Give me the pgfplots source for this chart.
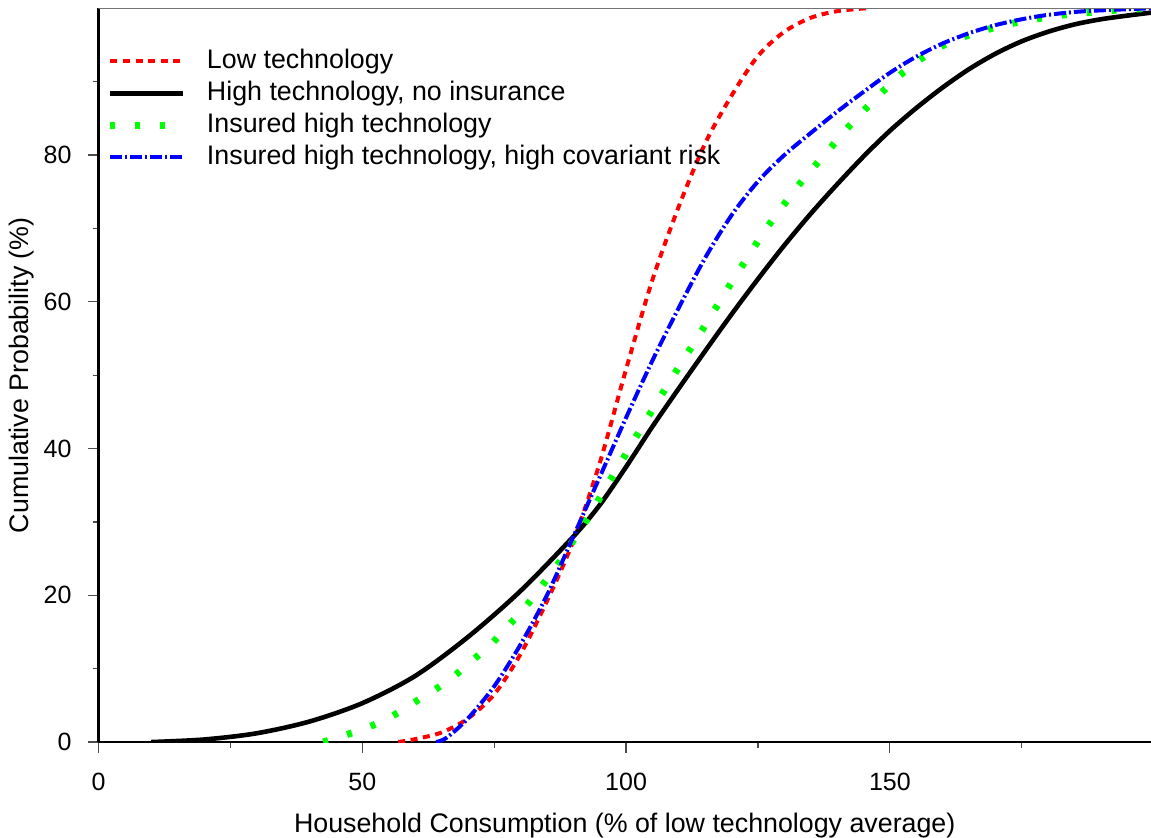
\documentclass[border=0pt]{standalone}
\usepackage{fontspec}
\setmainfont{Liberation Sans}
\usepackage{pgfplots}
\pgfplotsset{compat=1.18}
\begin{document}
\begin{tikzpicture}
\begin{axis}[
  scale only axis,
  width=526.25pt, height=366.9pt,
  xmin=0, xmax=199.5, ymin=0, ymax=100,
  axis x line*=bottom, axis y line*=left,
  axis line style={line width=1pt, black, -},
  xtick={0,50,100,150}, ytick={0,20,40,60,80},
  minor xtick={25,75,125,175}, minor ytick={10,30,50,70,90},
  tick align=outside,
  major tick length=5.5pt, minor tick length=3pt,
  tick style={line width=0.6pt, black!70},
  /pgf/number format/assume math mode=true,
  ticklabel style={font=\fontsize{12.5}{14}\selectfont},
  xticklabel style={anchor=base, yshift=-18.5pt},
  yticklabel style={anchor=east, xshift=-4.5pt},
  label style={font=\fontsize{13.4}{16}\selectfont},
  xlabel={Household Consumption (\% of low technology average)},
  ylabel={Cumulative Probability (\%)},
  x label style={at={(axis description cs:0.5,0)}, anchor=base, yshift=-45pt},
  y label style={at={(axis description cs:0,0.5)}, anchor=center, yshift=38.25pt},
  legend style={draw=none, fill=none, inner sep=0pt, outer sep=0pt,
    at={(axis description cs:0,1)}, anchor=north west, xshift=4.25pt, yshift=-20pt,
    font=\fontsize{13.4}{16}\selectfont,
    nodes={inner sep=0pt, text height=10pt, text depth=3pt},
    row sep=3pt,
    /tikz/every odd column/.append style={column sep=10pt}},
  legend cell align=left,
  legend image code/.code={\draw[#1] (0pt,0pt) -- (36.5pt,0pt);},
  clip=true,
]
% Low technology
\addplot[red, line width=2pt, dash pattern=on 3.5pt off 2.8pt, smooth] coordinates {
(56.8,0) (60,0.4) (65,1.3) (70,3.2) (75,6.5) (80,12.0) (85,19.2) (90,27.4)
(95,38.0) (100,50.8) (105,63.0) (110,73.0) (115,81.6) (120,88.1) (125,93.5)
(130,96.8) (135,98.7) (140,99.6) (145.5,100)
};
\addlegendentry{Low technology}
% High technology, no insurance
\addplot[black, line width=2.3pt, smooth] coordinates {
(10,0) (20,0.35) (30,1.2) (40,2.8) (50,5.3) (60,9.0) (70,14.3) (80,20.6)
(90,28.0) (95,32.3) (100,37.5) (105,43.0) (110,48.2) (115,53.3) (120,58.3)
(125,63.1) (130,67.7) (135,72.0) (140,76.0) (145,79.8) (150,83.3) (155,86.4)
(160,89.2) (165,91.7) (170,93.8) (175,95.5) (180,96.8) (185,97.8) (190,98.5)
(195,99.0) (199.5,99.4)
};
\addlegendentry{High technology, no insurance}
% Insured high technology
\addplot[green, line width=3.5pt, dash pattern=on 2.5pt off 10pt, smooth] coordinates {
(42.6,0) (47,1) (51.4,2.1) (55.8,3.6) (59.6,5.3) (63.7,7.1) (67.4,9) (71,11.2)
(74.5,13.4) (77.6,15.8) (80.7,18.2) (83.6,20.9) (86.5,23.6) (89,26.4) (91.5,29.1)
(93.9,31.9) (96.25,34.8) (98.6,37.6) (101,40.5) (103.3,43.3) (105.7,46.1) (108.1,48.9)
(110.5,51.7) (113,54.5) (115.5,57.4) (118,60.3) (120.4,63.1) (122.9,65.9) (125.3,68.6)
(127.8,71.2) (130.6,73.9) (133.5,76.6) (136.6,79.2) (139.5,81.6) (142.5,84.1)
(145.8,86.6) (149,88.9) (152.3,91.1) (155.9,93.1) (160,94.9) (164.4,96.2) (169,97.2)
(173.6,98.0) (178.3,98.6) (183,99.1) (187.4,99.4) (192.1,99.7) (197,99.9) (199.5,100)
};
\addlegendentry{Insured high technology}
% Insured high technology, high covariant risk
\addplot[blue, line width=2pt, dash pattern=on 6pt off 1.5pt on 1pt off 1.5pt, smooth] coordinates {
(64,0) (66,0.6) (70,3.2) (75,7.6) (80,13.3) (85,20.0) (90,28.0) (95,36.1)
(100,44.2) (105,52.0) (110,59.2) (115,66.0) (120,71.8) (125,76.4) (130,80.0)
(135,83.0) (140,85.9) (145,88.6) (150,91.2) (155,93.4) (160,95.2) (165,96.6)
(170,97.7) (175,98.5) (180,99.1) (187,99.6) (199.5,100)
};
\addlegendentry{Insured high technology, high covariant risk}
\draw[black!55, line width=1pt] (rel axis cs:0,1) -- (rel axis cs:1,1);
\end{axis}
\pgfresetboundingbox
\path[use as bounding box] (-49.25pt,-47.5pt) rectangle (526.25pt,371.03pt);
\end{tikzpicture}
\end{document}
